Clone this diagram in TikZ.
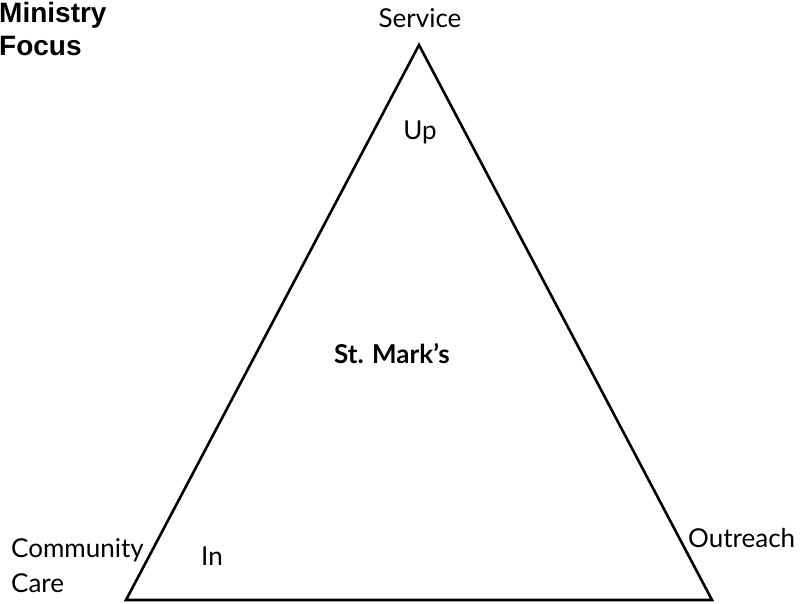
\documentclass[tikz,border=0pt]{standalone}
\usepackage{fontspec}
\usepackage{tikz}
\usetikzlibrary{positioning}
\newfontfamily\labelfont{Lato}
\newfontfamily\headfont{Liberation Sans}

\begin{document}
\begin{tikzpicture}[x=1pt,y=1pt,
  lbl/.style={font=\labelfont\fontsize{26}{35}\selectfont,inner sep=0pt,anchor=base},
  side/.style={line width=2.6pt,line join=miter}]
\useasboundingbox (0,0) rectangle (802,-604);
% corners of the triangle
\coordinate (top) at (419,-45);
\coordinate (left) at (126,-600);
\coordinate (right) at (712,-600);
\draw[side] (top)--(right)--(left)--cycle;
% labels (base of a two-line node is its last line)
\node[lbl] (service) at (420,-28) {Service};
\node[lbl] (up) at (420,-140) {Up};
\node[lbl,font=\labelfont\bfseries\fontsize{26}{35}\selectfont] (stmark) at (392,-363) {St. Mark’s};
\node[lbl] (in) at (212,-565) {In};
\node[lbl,anchor=base west,align=left] (care) at (11,-592) {Community\\Care};
\node[lbl,anchor=base west] (outreach) at (688,-547) {Outreach};
\node[lbl,anchor=base west,align=left,font=\headfont\bfseries\fontsize{28}{33}\selectfont] (focus) at (-1,-56) {Ministry\\Focus};
\end{tikzpicture}
\end{document}
